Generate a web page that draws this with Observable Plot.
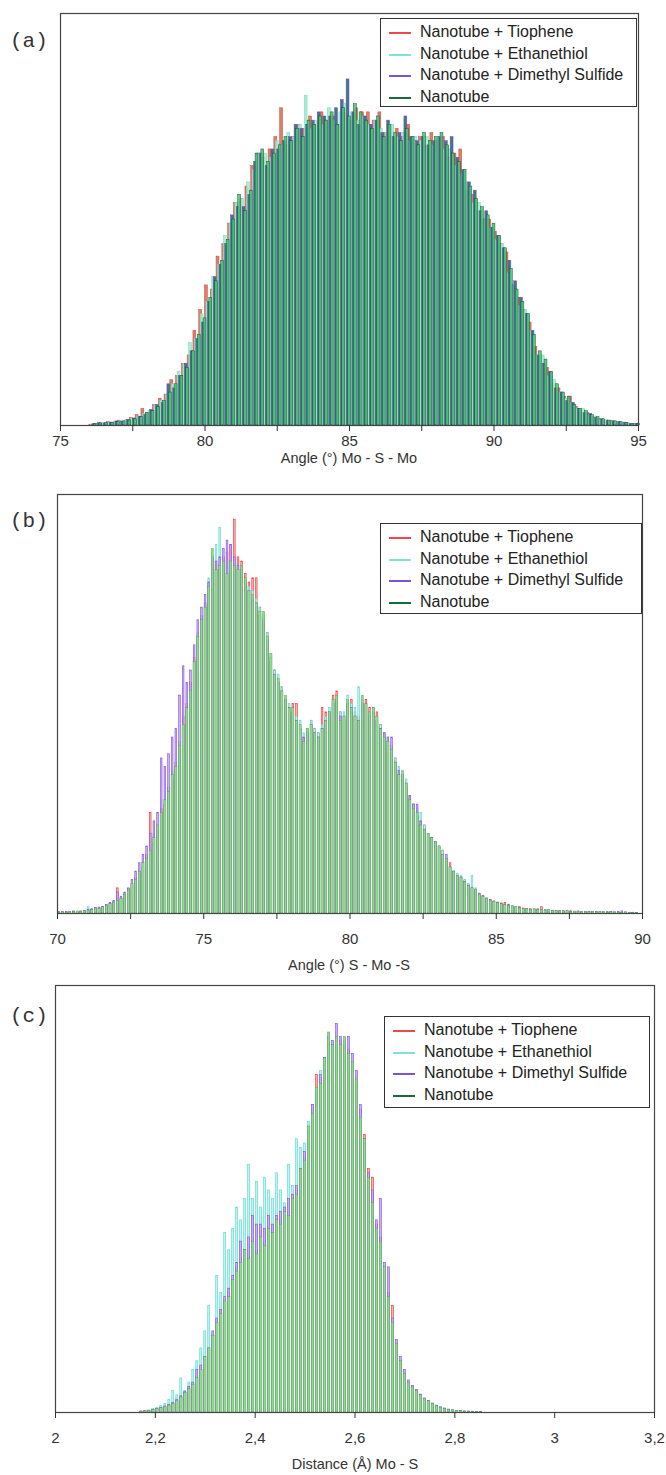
<!DOCTYPE html>
<html><head><meta charset="utf-8">
<script src="https://cdn.jsdelivr.net/npm/d3@7"></script>
<script src="https://cdn.jsdelivr.net/npm/@observablehq/plot@0.6"></script>
<style>
body{margin:0;background:#fff;width:666px;height:1475px;position:relative;overflow:hidden;font-family:"Liberation Sans",Arial,sans-serif;}
.panel{position:absolute;left:0;}
.tag{position:absolute;font-family:"Liberation Mono","DejaVu Sans Mono",monospace;font-size:21px;line-height:24px;color:#333;}
.legend{position:absolute;border:1.3px solid #333;background:#fff;box-sizing:border-box;}
.row{position:absolute;left:0;height:20px;line-height:20px;font-size:16px;color:#222;white-space:nowrap}
.sw{position:absolute;left:8px;top:10px;width:22px;height:0;border-top:2px solid}
.lab{position:absolute;left:39px;top:0}
.title{position:absolute;font-size:14.5px;color:#333;transform:translate(-50%,-50%);white-space:nowrap}
</style>
</head><body>
<script>
// ---- series names ----
const seriesNames = ["Nanotube + Tiophene", "Nanotube + Ethanethiol", "Nanotube + Dimethyl Sulfide", "Nanotube"];

// ---- panel (a): Angle Mo-S-Mo, bins of 0.2 deg starting at 76 ----
const aStart = 76, aStep = 0.2;
const aTiophene = [0.2,0.4,0.5,0.8,0.7,1.2,1,1.8,2.5,4, 3,5,6.5,7.5,11,12,15,17,23,28, 34,33,41,44,49,54,55,58,63,66, 65,67,70,77,68,70,73,72,75,73, 76,74,75,73,76,74,77,76,76,74, 76,71,70,72,70,73,69,70,68,71, 69,70,65,66,67,57,56,52,50,50, 47,44,42,34,31,28,25,19,15,14, 10,9,7,7,4.5,3,3,2,1.6,1, 1.1,0.7,0.5,0.5,0.4];
const aEthanethiol = [0.2,0.3,0.5,0.7,0.9,1.1,1.3,1.6,2.2,2.8, 3.6,5,6,7.5,10,13,15,20,21,27, 30,36,39,46,49,54,55,59,62,66, 66,65,69,68,71,70,73,80,72,74, 73,77,74,76,78,76,74,75,73,74, 72,71,73,70,71,69,70,69,70,68, 70,67,67,63,61,59,54,54,50,48, 45,44,37,34,29,28,23,17,17,12, 11,8,6.5,5.5,4,4,2.6,2.2,1.4,1.3, 0.9,0.8,0.5,0.4,0.2];
const aDimethyl = [0.3,0.6,0.5,0.7,1,0.9,1.4,1.7,2.1,2.6, 3.8,5,5.5,10,9,12,15,18,21,25, 30,36,39,44,51,53,53,56,64,66, 63,67,67,69,70,73,72,73,74,76, 75,75,77,79,84,76,73,75,73,74, 71,74,70,71,75,70,69,70,68,69, 70,69,70,65,62,59,57,52,52,48, 46,43,40,35,31,27,23,17,15,13, 9,8,6,5.5,4,3,2.8,1.8,1.5,1.1, 1,0.8,0.7,0.3,0.4];
const aNanotube = [0.3,0.5,0.6,0.6,0.8,1,1.2,1.5,2,3, 3.5,4.5,6,8,10,12,14,18,22,26, 31,35,40,45,50,56,52,57,66,67, 64,66,68,70,69,72,70,74,73,75, 74,76,73,77,75,78,76,74,72,75, 70,73,71,69,72,70,68,71,69,70, 71,68,66,64,62,58,55,53,51,49, 46,43,38,33,30,27,22,18,16,13, 10,8,7,5,4,3.5,2.5,2,1.5,1.2, 1,0.8,0.6,0.4,0.3];
const aMajorTicks = [75, 80, 85, 90, 95];
const aMinorTicks = [77.5, 82.5, 87.5, 92.5];

// ---- panel (b): Angle S-Mo-S, bins of 0.125 deg starting at 70 ----
const bStart = 70, bStep = 0.125;
const bTiophene = [0.3,0.2,0.3,0.3,0.4,0.4,0.5,0.5, 0.8,0.8,1.1,1.3,1.4,1.9,2.4,2.5, 6,3.6,4.4,5.8,6.5,8.5,10,11, 14,24,17,20,25,26,30,32, 36,39,47,50,55,61,65,71, 74,79,83,84,82,85,86,88, 94,85,84,81,79,80,80,73, 70,67,61,58,55,54,51,48, 50,50,44,42,43,46,44,43, 49,48,47,52,53,48,46,50, 51,48,47,50,51,49,49,48, 45,43,40,38,37,33,33,30, 28,26,23,22,21,19,18,16, 16,15,13,12,10,9,8,7.8, 6.8,6.2,5.5,4.7,4.2,3.6,3.1,2.9, 2.6,2.4,2.5,2.1,1.6,1.4,1.5,1.2, 1.1,1,0.9,1,1.5,0.8,0.7,0.6, 0.5,0.6,0.4,0.5,0.5,0.4,0.5,0.3, 0.3,0.4,0.3,0.3,0.2,0.3,0.3,0.2, 0.2,0.3,0.2,0.2,0.1,0.2,0.1,0];
const bEthanethiol = [0.2,0.2,0.3,0.3,0.3,0.4,0.5,0.5, 1.5,1,1.3,1.2,1.6,1.7,2.3,2.7, 3.2,3.8,4.6,5.5,6.8,8.2,9.8,12, 13,16,19,21,23,26,30,34, 36,41,44,48,54,60,67,71, 74,80,85,88,92,85,84,83, 84,83,81,79,78,77,75,73, 71,67,61,58,57,54,51,50, 48,47,46,43,44,46,44,43, 45,47,49,50,51,48,48,52, 50,49,54,51,49,48,49,46, 45,43,42,40,37,35,33,32, 28,26,25,24,21,19,18,17, 16,15,13,11,10,9.5,9,8, 7,9,6,4.8,4,3.6,3.2,2.7, 2.6,2.3,2,1.9,1.8,1.5,1.3,1.1, 1,0.9,1,0.8,0.8,0.8,0.7,0.7, 0.6,0.5,0.6,0.5,0.4,0.4,0.4,0.4, 0.3,0.4,0.4,0.3,0.3,0.3,0.3,0.2, 0.2,0.2,0.2,0.2,0.2,0.1,0.1,0];
const bDimethyl = [0.3,0.3,0.4,0.3,0.5,0.4,0.4,0.6, 0.9,1,1.3,1.4,1.6,2,2.5,3, 5,4,5,6,8,10,12,14, 16,19,22,24,37,35,38,42, 44,52,59,55,58,64,70,73, 76,79,85,84,85,87,89,88, 85,83,82,79,77,75,74,71, 70,65,60,57,55,53,51,49, 48,46,44,42,43,45,43,42, 44,46,48,50,51,47,47,50, 49,47,46,50,50,47,48,46, 44,43,42,42,36,34,33,31, 28,26,26,22,20,18,18,17, 15,14,14,11,10,9,8.6,7.5, 6.5,6,5.5,4.6,4.1,3.4,3.2,2.7, 2.5,2.3,2,1.8,1.6,1.4,1.3,1.1, 1,0.9,0.9,0.8,0.8,0.7,0.7,0.6, 0.6,0.5,0.5,0.5,0.5,0.4,0.4,0.3, 0.3,0.3,0.3,0.3,0.3,0.2,0.3,0.4, 0.2,0.3,0.5,0.2,0.1,0.1,0.1,0];
const bNanotube = [0.2,0.3,0.2,0.4,0.3,0.5,0.4,0.6, 0.7,0.9,1.2,1,1.5,1.8,2.2,2.6, 3,3.5,4.5,5.5,7,8,10,12, 13,15,18,21,24,27,29,33, 35,40,45,49,53,60,66,70, 73,78,87,82,83,84,81,84, 83,82,83,80,77,76,74,72, 72,66,62,57,56,53,52,49, 49,46,45,41,44,45,43,42, 44,46,48,51,52,46,47,51, 49,47,46,52,50,48,49,47, 44,42,41,39,36,33,34,31, 27,25,24,21,20,19,18,17, 16,14,13,11,10,9,8.5,7.5, 6.5,6,5.7,4.5,4,3.5,3,2.8, 2.5,2.2,2,1.8,1.7,1.5,1.2,1.1, 1,0.9,1,0.8,0.9,0.7,0.8,0.6, 0.6,0.5,0.5,0.6,0.4,0.5,0.4,0.4, 0.4,0.3,0.4,0.3,0.3,0.3,0.2,0.3, 0.3,0.2,0.2,0.3,0.2,0.1,0.1,0];
const bMajorTicks = [70, 75, 80, 85, 90];
const bMinorTicks = [72.5, 77.5, 82.5, 87.5];

// ---- panel (c): Distance Mo-S, bins of 0.008 A starting at 2.168 ----
const cStart = 2.168, cStep = 0.008;
const cTiophene = [0.2,0.3,0.4,0.5,0.8,1,1.3,1.7,2.1,2.7, 3.6,4.6,5.6,6.8,8.5,10,13,15,18,21, 24,26,28,31,34,36,38,37,40,38, 41,40,43,43,45,45,47,47,50,52, 57,60,67,71,79,78,82,88,86,88, 87,87,85,82,77,71,65,57,55,44, 41,34,28,25,16,12,9,7,6,5, 4,3.2,2.6,2,1.5,1.1,0.9,0.6,0.5,0.4, 0.3,0.2,0.2,0.1,0.1,0.1,0];
const cEthanethiol = [0.2,0.4,0.5,0.8,1,1.5,2,3,5,4, 8,5,7,10,12,15,19,25,18,32, 28,42,38,43,48,45,50,58,50,54, 48,55,52,50,56,52,49,58,53,64, 62,63,68,72,76,80,83,88,86,87, 86,87,84,81,76,70,62,54,48,43, 39,33,27,21,16,12,9,7,5.8,5, 4,3,2.5,2,1.6,1.2,0.9,0.6,0.5,0.4, 0.3,0.3,0.2,0.2,0.1,0.1,0];
const cDimethyl = [0.2,0.3,0.4,0.6,0.9,1.1,1.4,1.8,2.3,3, 3.8,4.8,6,7,10,11,13,15,19,22, 24,27,29,32,35,40,38,41,46,44, 44,43,46,44,46,47,48,50,51,53, 57,61,66,72,75,79,83,88,87,91, 88,86,88,84,80,72,64,56,52,45, 50,35,34,22,17,13,10,7.5,6.2,5.3, 4.2,3.3,2.7,2.1,1.6,1.2,0.9,0.7,0.5,0.4, 0.3,0.2,0.2,0.1,0.1,0.1,0];
const cNanotube = [0.2,0.3,0.4,0.6,0.8,1,1.2,1.6,2,2.6, 3.5,4.5,5.5,6.5,8,10,13,15,18,21, 23,26,27,31,33,35,38,36,40,37, 41,39,43,42,45,44,47,46,50,51, 57,59,67,70,76,77,83,89,86,88, 86,88,84,82,78,69,64,55,49,43, 40,34,27,21,16,12,9,7,6,5, 4,3.2,2.6,2,1.5,1.1,0.8,0.6,0.5,0.4, 0.3,0.2,0.2,0.1,0.1,0.1,0];
const cMajorTicks = [2, 2.2, 2.4, 2.6, 2.8, 3, 3.2];

// ---- colours ----
const legendColors = ["#f04848", "#7fe2da", "#7a55cf", "#1c6a3c"];

function toRows(start, step, arrays, interleave) {
  return arrays.map((arr, k) => arr.map((v, i) => {
    let x1 = start + i * step, x2 = x1 + step;
    if (interleave) { x1 = x1 + k * step / 4; x2 = x1 + step / 2; }
    return {k, x1, x2, y: v};
  }));
}

function makePanel(cfg) {
  const rows = toRows(cfg.start, cfg.step, cfg.arrays, cfg.interleave);
  const st = cfg.styles;
  const marks = rows.map((r, k) => Plot.rectY(r, {
    x1: "x1", x2: "x2", y: "y",
    fill: st[k].fill, fillOpacity: st[k].fo, stroke: st[k].stroke, strokeWidth: st[k].sw, strokeOpacity: st[k].so ?? 1,
    insetLeft: st[k].inset, insetRight: st[k].inset
  }));
  const chart = Plot.plot({
    width: 666, height: cfg.height,
    marginTop: cfg.mt, marginBottom: cfg.mb, marginLeft: cfg.ml, marginRight: cfg.mr,
    style: {background: "transparent", color: "#333", fontFamily: "Liberation Sans, Arial, sans-serif", overflow: "visible"},
    x: {domain: cfg.domain},
    y: {domain: [0, 100], axis: null},
    marks: [
      ...marks,
      Plot.ruleY([0], {stroke: "#333", strokeWidth: 1.2}),
      Plot.frame({stroke: "#444", strokeWidth: 1.2}),
      Plot.axisX({ticks: cfg.major, tickFormat: cfg.fmt, tickSize: 6, tickPadding: cfg.pad, fontSize: 15, label: null, stroke: "#333"}),
      ...(cfg.minor ? [Plot.axisX({ticks: cfg.minor, tickFormat: () => "", tickSize: 6, label: null, stroke: "#333"})] : [])
    ]
  });
  const wrap = document.createElement("div");
  wrap.className = "panel";
  wrap.style.top = cfg.top + "px";
  wrap.appendChild(chart);
  document.body.appendChild(wrap);

  const t = document.createElement("div");
  t.className = "title"; t.textContent = cfg.title;
  t.style.left = cfg.titleX + "px"; t.style.top = cfg.titleY + "px";
  document.body.appendChild(t);

  const tag = document.createElement("div");
  tag.className = "tag"; tag.textContent = cfg.tag;
  tag.style.left = "10px"; tag.style.top = (cfg.tagY - 12) + "px";
  document.body.appendChild(tag);

  const lg = document.createElement("div");
  lg.className = "legend";
  Object.assign(lg.style, {left: cfg.legend[0] + "px", top: cfg.legend[1] + "px", width: cfg.legend[2] + "px", height: cfg.legend[3] + "px"});
  seriesNames.forEach((name, i) => {
    const row = document.createElement("div");
    row.className = "row";
    row.style.top = (3 + i * 21.7) + "px";
    row.innerHTML = `<span class="sw" style="border-color:${legendColors[i]}"></span><span class="lab"></span>`;
    row.querySelector(".lab").textContent = name;
    lg.appendChild(row);
  });
  document.body.appendChild(lg);
}

const styleA = [
  {fill: "#c8704c", fo: 0.85, stroke: "#e83c3c", sw: 0.5, inset: 0},
  {fill: "#a6ecc6", fo: 0.9, stroke: "#6ad8d0", sw: 0.5, inset: 0},
  {fill: "#2f6a78", fo: 0.9, stroke: "#7048c8", sw: 0.5, inset: 0},
  {fill: "#44c678", fo: 0.88, stroke: "#12442a", sw: 0.45, inset: 0}
];
const styleBC = [
  {fill: "#f7b4b4", fo: 1, stroke: "#ee3030", sw: 0.6, inset: 1.0},
  {fill: "#bff4f0", fo: 1, stroke: "#55d6d0", sw: 0.6, inset: 1.0},
  {fill: "#cdb0f4", fo: 1, stroke: "#8450db", sw: 0.6, inset: 1.0},
  {fill: "#8fdc8f", fo: 1, stroke: "#3f7f3f", sw: 0.35, so: 0.8, inset: 0.7}
];

makePanel({
  top: 0, height: 480, mt: 13, mb: 55, ml: 60, mr: 28, domain: [75, 95],
  start: aStart, step: aStep, arrays: [aTiophene, aEthanethiol, aDimethyl, aNanotube], interleave: true,
  styles: styleA, major: aMajorTicks, minor: aMinorTicks, fmt: d => String(d), pad: 4,
  title: "Angle (°) Mo - S - Mo", titleX: 349, titleY: 458, tag: "(a)", tagY: 42,
  legend: [380, 18, 257, 89]
});
makePanel({
  top: 480, height: 480, mt: 14, mb: 47, ml: 57, mr: 24, domain: [70, 90],
  start: bStart, step: bStep, arrays: [bTiophene, bEthanethiol, bDimethyl, bNanotube], interleave: false,
  styles: styleBC, major: bMajorTicks, minor: bMinorTicks, fmt: d => String(d), pad: 14,
  title: "Angle (°) S - Mo -S", titleX: 349, titleY: 965, tag: "(b)", tagY: 522,
  legend: [380, 523, 262, 91]
});
makePanel({
  top: 960, height: 515, mt: 25, mb: 63, ml: 55, mr: 12, domain: [2, 3.2],
  start: cStart, step: cStep, arrays: [cTiophene, cEthanethiol, cDimethyl, cNanotube], interleave: false,
  styles: styleBC, major: cMajorTicks, minor: null, fmt: d => String(+d.toFixed(1)).replace(".", ","), pad: 14,
  title: "Distance (Å) Mo - S", titleX: 355, titleY: 1464, tag: "(c)", tagY: 1017,
  legend: [384, 1016, 266, 92]
});
</script>
</body></html>
